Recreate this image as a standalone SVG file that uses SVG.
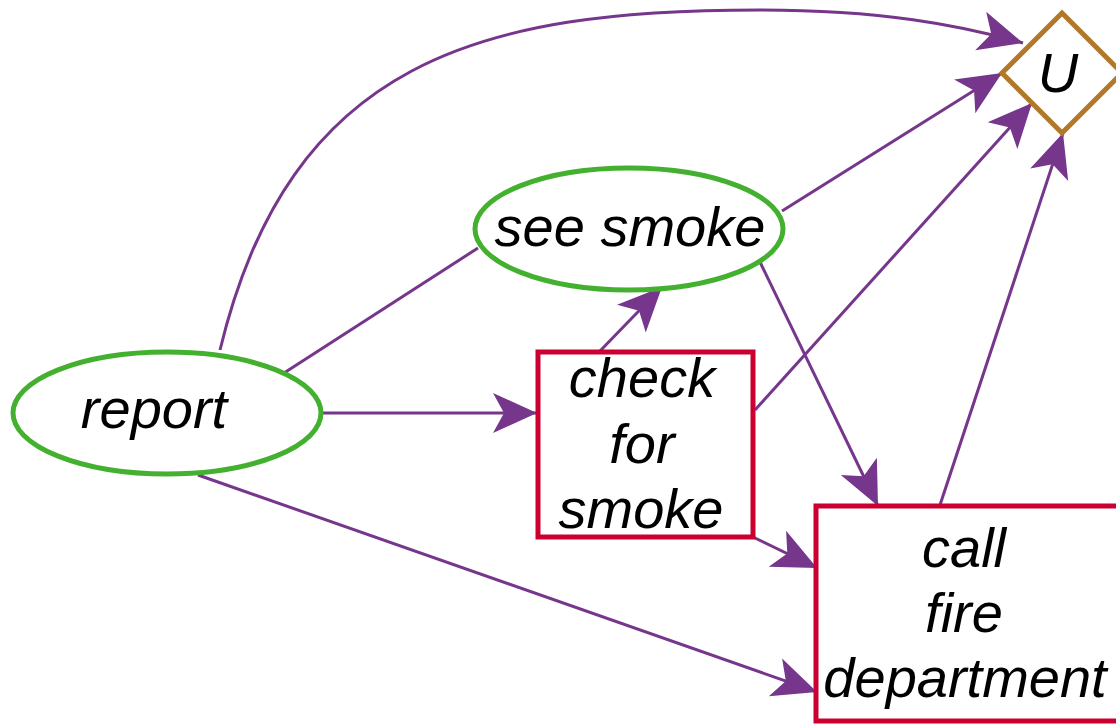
<svg xmlns="http://www.w3.org/2000/svg" width="1116" height="726" viewBox="0 0 1116 726">
<style>
.e{fill:none;stroke:#76368c;stroke-width:3}
.t{font-family:"Liberation Sans",Arial,sans-serif;font-style:italic;font-size:56px;fill:#000;text-anchor:middle}
.g{fill:#fff;stroke:#44b02f;stroke-width:5}
.r{fill:#fff;stroke:#cc0030;stroke-width:5}
.u{fill:#fff;stroke:#b07828;stroke-width:5}
</style>
<defs>
<marker id="a" markerUnits="userSpaceOnUse" markerWidth="50" markerHeight="50" refX="44" refY="22" orient="auto">
<path d="M0,2 L44,22 L0,42 L11,22 Z" fill="#76368c"/>
</marker>
</defs>
<rect width="1116" height="726" fill="#fff"/>
<g id="edges">
<path class="e" d="M220,350 C290,60 480,10 760,10 C880,10 960,25 1023,43" marker-end="url(#a)"/>
<path class="e" d="M284,373 L478,248"/>
<path class="e" d="M322,413 L537,413" marker-end="url(#a)"/>
<path class="e" d="M198,475 L817,692" marker-end="url(#a)"/>
<path class="e" d="M600,351 L662,287" marker-end="url(#a)"/>
<path class="e" d="M782,211 L1002,73" marker-end="url(#a)"/>
<path class="e" d="M755,410 L1032,103" marker-end="url(#a)"/>
<path class="e" d="M760,262 L878,506" marker-end="url(#a)"/>
<path class="e" d="M753,537 L817,568" marker-end="url(#a)"/>
<path class="e" d="M940,505 L1063,133" marker-end="url(#a)"/>
</g>
<g id="report">
<ellipse class="g" cx="167" cy="413" rx="154" ry="61"/>
<text class="t" x="154" y="428">report</text>
</g>
<g id="see_smoke">
<ellipse class="g" cx="629" cy="229" rx="154" ry="61"/>
<text class="t" x="630" y="246">see smoke</text>
</g>
<g id="check_for_smoke">
<rect class="r" x="538" y="352" width="215" height="185"/>
<text class="t" x="642" y="397">check</text>
<text class="t" x="642" y="463">for</text>
<text class="t" x="641" y="528">smoke</text>
</g>
<g id="call_fire_department">
<rect class="r" x="816" y="506" width="310" height="215"/>
<text class="t" x="964" y="567">call</text>
<text class="t" x="964" y="632">fire</text>
<text class="t" x="965" y="697">department</text>
</g>
<g id="U">
<polygon class="u" points="1062,13 1122,73 1062,133 1002,73"/>
<text class="t" x="1058" y="92">U</text>
</g>
</svg>
